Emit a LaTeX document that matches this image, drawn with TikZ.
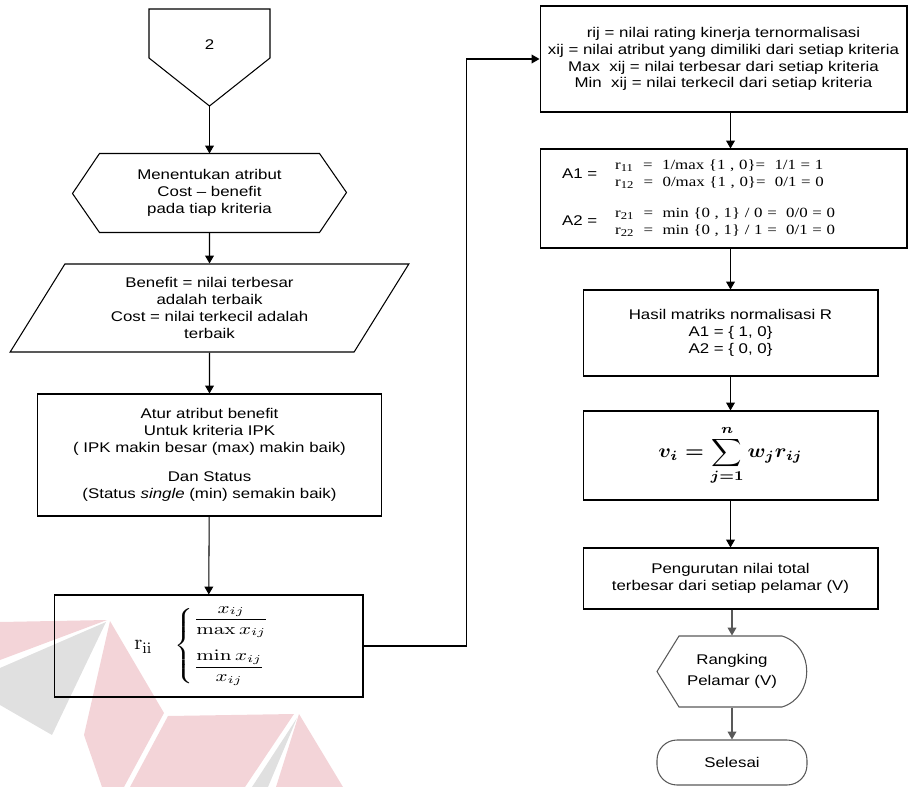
\documentclass[tikz,border=0pt]{standalone}
\usepackage[no-math]{fontspec}
\usepackage{amsmath}
\usepackage{graphicx}
\setmainfont[FakeStretch=1.2]{Liberation Sans}
\newfontfamily\serifr[FakeStretch=1.2]{Liberation Serif}
\usetikzlibrary{arrows.meta, positioning, shapes.geometric}
\definecolor{wmred}{RGB}{243,212,216}
\definecolor{wmgray}{RGB}{224,224,224}

\begin{document}
\begin{tikzpicture}[x=0.02cm, y=-0.02cm, line width=0.6pt,
    >={Triangle[length=4.5pt,width=5pt]},
    every node/.style={font=\fontsize{8}{9.6}\selectfont},
    proses/.style={draw, rectangle, align=center, inner sep=0pt},
    teks/.style={align=center, inner sep=0pt},
    data/.style={draw, trapezium, trapezium left angle=58.5, trapezium right angle=121.5,
      trapezium stretches=true, align=center, inner sep=0pt},
    abu/.style={draw=black!65}]

  \useasboundingbox (0,0) rectangle (913,787);

  % watermark
  \fill[wmred] (0,622) -- (107,620) -- (0,660) -- cycle;
  \fill[wmgray] (0,668) -- (106,622) -- (52,735) -- (0,705) -- cycle;
  \fill[wmred] (110,621) -- (164,713) -- (124,787) -- (102,787) -- (84,735) -- cycle;
  \fill[wmred] (168,716) -- (294,714) -- (245,787) -- (130,787) -- cycle;
  \fill[wmgray] (297,718) -- (268,787) -- (252,787) -- cycle;
  \fill[wmred] (299,714) -- (343,787) -- (276,787) -- cycle;

  % kolom kiri
  \node[teks] (mulai) at (209.5,45) {2};
  \draw (149,9) -- (270,9) -- (270,58) -- (209.5,106) coordinate (ujung) -- (149,58) -- cycle;

  \node[teks, minimum width=4.38cm, minimum height=1.56cm] (atribut) at (209.5,193)
    {Menentukan atribut\\Cost -- benefit\\pada tiap kriteria};
  \draw (atribut.north west) -- (atribut.north east) -- ++(27,39) -- (atribut.south east)
    -- (atribut.south west) -- ++(-27,-39) -- cycle;

  \node[data, minimum width=7.98cm, minimum height=1.76cm] (jenis) at (209.5,308)
    {Benefit = nilai terbesar\\adalah terbaik\\Cost = nilai terkecil adalah\\terbaik};

  \node[proses, minimum width=6.9cm, minimum height=2.44cm] (atur) at (209.5,455)
    {Atur atribut benefit\\Untuk kriteria IPK\\( IPK makin besar (max) makin baik)\\[0.25cm]
     Dan Status\\(Status \textit{single} (min) semakin baik)};

  \node[proses, minimum width=6.18cm, minimum height=2.04cm, font=\fontsize{9}{11}\selectfont] (rumus) at (208.5,646)
    {{\fontsize{13}{15}\selectfont$\mathrm{r}_{\mathrm{ii}}$}\hspace{0.45cm}%
     \scalebox{1.3}[1]{$\left\{\begin{array}{@{}l@{}}
      \dfrac{x_{ij}}{\max x_{ij}}\\[12pt]\dfrac{\min x_{ij}}{x_{ij}}\end{array}\right.$}\hspace{0.22cm}};

  % kolom kanan
  \node[proses, minimum width=7.34cm, minimum height=2.12cm] (ket) at (723.5,59)
    {rij = nilai rating kinerja ternormalisasi\\xij = nilai atribut yang dimiliki dari setiap kriteria\\
     Max\ \ xij = nilai terbesar dari setiap kriteria\\Min\ \ xij = nilai terkecil dari setiap kriteria};

  \node[proses, minimum height=1.98cm, text width=6.46cm, inner xsep=0.44cm, align=left] (hitung) at (723.5,198.5)
    {\begin{tabular}{@{}l@{\hspace{0.36cm}}l@{}}
     A1 = & \serifr\begin{tabular}[c]{@{}l@{}}
       r\textsubscript{11}\ \ =\ \ 1/max \{1 , 0\}=\ \ 1/1 = 1\\
       r\textsubscript{12}\ \ =\ \ 0/max \{1 , 0\}=\ \ 0/1 = 0\end{tabular}\\[0.45cm]
     A2 = & \serifr\begin{tabular}[c]{@{}l@{}}
       r\textsubscript{21}\ \ =\ \ min \{0 , 1\} / 0 =\ \ 0/0 = 0\\
       r\textsubscript{22}\ \ =\ \ min \{0 , 1\} / 1 =\ \ 0/1 = 0\end{tabular}
     \end{tabular}};

  \node[proses, minimum width=5.9cm, minimum height=1.72cm] (hasil) at (730.5,333)
    {Hasil matriks normalisasi R\\A1 = \{ 1, 0\}\\A2 = \{ 0, 0\}};

  \node[proses, minimum width=5.9cm, minimum height=1.78cm, font=\fontsize{10}{12}\selectfont] (bobot) at (730.5,455.5)
    {\scalebox{1.2}[1.1]{\boldmath$\displaystyle v_i=\sum_{j=1}^{n} w_j r_{ij}$}};

  \node[proses, minimum width=5.9cm, minimum height=1.22cm] (urut) at (730.5,578.5)
    {\raisebox{-3pt}{\begin{tabular}{@{}c@{}}Pengurutan nilai total\\terbesar dari setiap pelamar (V)\end{tabular}}};

  \node[teks, minimum width=3cm, minimum height=1.42cm] (rangking) at (732,671.5)
    {Rangking\\[2pt]Pelamar (V)};
  \draw[abu] (657,671.5) -- (679,636) -- (782,636) .. controls (815,646) and (815,697) .. (782,707)
    -- (679,707) -- cycle;

  \node[draw, abu, rounded corners=0.4cm, minimum width=3cm, minimum height=0.9cm, inner sep=0pt] (selesai) at (732,762.5) {Selesai};

  % panah
  \path[->] (ujung) edge (atribut)
            (atribut) edge (jenis)
            (jenis) edge (atur)
            (atur) edge (rumus);
  \draw[->] (rumus.east) -- ++(103,0) |- (ket.west);
  \draw[->] (ket.south -| hasil.north) -- (hitung.north -| hasil.north);
  \draw[->] (hitung.south -| hasil.north) -- (hasil.north);
  \draw[->] (hasil.south) -- (bobot.north);
  \draw[->] (bobot.south) -- (urut.north);
  \draw[->, abu] (urut.south -| rangking.north) -- (rangking.north);
  \draw[->, abu] (rangking.south) -- (selesai.north);
\end{tikzpicture}
\end{document}
